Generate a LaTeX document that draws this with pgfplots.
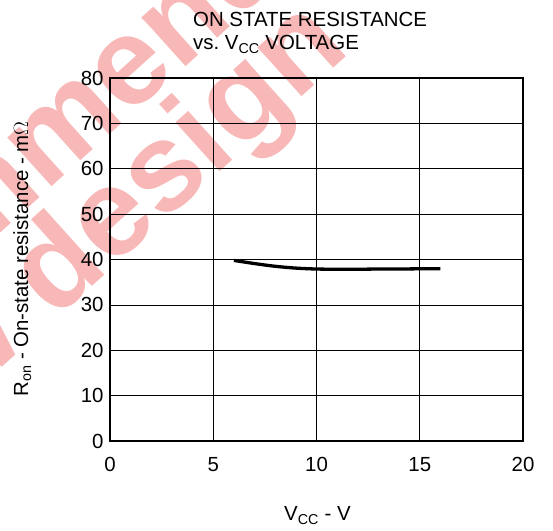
\documentclass[border=0pt]{standalone}
\usepackage{fontspec}
\setmainfont{Liberation Sans}
\usepackage{pgfplots}
\pgfplotsset{compat=1.18}
\definecolor{stamp}{RGB}{249,184,184}
\newcommand\lbl{\fontsize{20.5}{23}\selectfont}

\begin{document}
\begin{tikzpicture}[x=1bp,y=1bp]
\useasboundingbox (0,0) rectangle (553,531);

% status stamp behind the chart
\begin{scope}
  \clip (0,0) rectangle (553,531);
  \tikzset{stampline/.style={rotate=42, anchor=base, inner sep=0pt, text=stamp,
        font=\bfseries\fontsize{125}{120}\selectfont}}
  \node[stampline] at (-6,292) {Not recommended};
  \node[stampline] at (26,185) {for new design};
\end{scope}

\begin{axis}[
  at={(110bp,90bp)}, anchor=south west,
  scale only axis, width=413bp, height=363bp,
  xmin=0, xmax=20, ymin=0, ymax=80,
  xtick={0,5,10,15,20}, ytick={0,10,...,80},
  major tick length=0pt,
  grid=major,
  major grid style={black, line width=0.7bp},
  axis line style={black, line width=1.3bp},
  tick label style={font=\lbl, text=black},
  /pgf/number format/assume math mode=true,
  xticklabel style={yshift=-13bp},
  yticklabel style={xshift=-3bp},
]
\addplot[black, line width=3.3bp, smooth, line cap=butt] coordinates {
  (6,39.8) (7,39.1) (8,38.5) (9,38.1) (10,37.9) (11,37.85)
  (12,37.85) (13,37.9) (14,37.9) (15,37.95) (16,37.95)
};
\end{axis}

% titles and axis labels
\node[anchor=base west, inner sep=0pt, font=\lbl] at (193,504) {ON STATE RESISTANCE};
\node[anchor=base west, inner sep=0pt, font=\lbl] at (193,481) {vs.\ V\textsubscript{CC} VOLTAGE};
\node[anchor=base, inner sep=0pt, font=\lbl] at (317.5,10) {V\textsubscript{CC} - V};
\node[anchor=base, rotate=90, inner sep=0pt, font=\lbl] at (28,272) {R\textsubscript{on} - On-state resistance - m\(\Omega\)};
\end{tikzpicture}
\end{document}
